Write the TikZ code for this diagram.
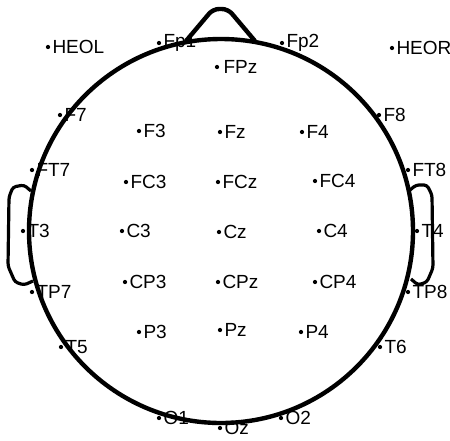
\documentclass[tikz,border=0pt]{standalone}
\usepackage{fontspec}
\setmainfont{Liberation Sans}
\usetikzlibrary{positioning}

\tikzset{
    dot/.style={circle, fill=black, inner sep=1.5pt},
    lab/.style={inner sep=0pt, font=\fontsize{19}{21}\selectfont},
    head/.style={line width=4.4pt},
    ear/.style={line width=3.2pt, rounded corners=3pt}
}

\begin{document}
\begin{tikzpicture}[x=1pt,y=-1pt]
    \useasboundingbox (0,0) rectangle (450,440);

    % Head, nose and ears
    \draw[head] (221,231) circle (192);
    \draw[head, rounded corners=6pt] (186,41) -- (213,9) -- (228,9) -- (255,41);
    \draw[ear] (31,191) -- (24,185) -- (13,187) -- (9,197) -- (8,266) -- (15,282) -- (24,285) -- (33,281);
    \draw[ear] (410,190) -- (416,185) -- (427,185) -- (432,195) -- (433,268) -- (427,282) -- (418,285) -- (411,279);

    % Eye channels
    \node[dot] (HEOL) at (48,47) {};
    \node[lab, right=2pt of HEOL] (HEOL-l) {HEOL};
    \node[dot] (HEOR) at (392,48) {};
    \node[lab, right=2pt of HEOR] (HEOR-l) {HEOR};

    % Frontal pole
    \node[dot] (Fp1) at (159,43) {};
    \node[lab, right=2pt of Fp1] (Fp1-l) {Fp1};
    \node[dot] (Fp2) at (282,43) {};
    \node[lab, right=2pt of Fp2] (Fp2-l) {Fp2};
    \node[dot] (FPz) at (217,67) {};
    \node[lab, right=4pt of FPz] (FPz-l) {FPz};

    % Frontal row
    \node[dot] (F7) at (60,115) {};
    \node[lab, right=2pt of F7] (F7-l) {F7};
    \node[dot] (F3) at (139,131) {};
    \node[lab, right=2pt of F3] (F3-l) {F3};
    \node[dot] (Fz) at (220,132) {};
    \node[lab, right=2pt of Fz] (Fz-l) {Fz};
    \node[dot] (F4) at (302,132) {};
    \node[lab, right=2pt of F4] (F4-l) {F4};
    \node[dot] (F8) at (379,115) {};
    \node[lab, right=2pt of F8] (F8-l) {F8};

    % Fronto-central row
    \node[dot] (FT7) at (32,170) {};
    \node[lab, right=2pt of FT7] (FT7-l) {FT7};
    \node[dot] (FC3) at (126,182) {};
    \node[lab, right=2pt of FC3] (FC3-l) {FC3};
    \node[dot] (FCz) at (218,182) {};
    \node[lab, right=2pt of FCz] (FCz-l) {FCz};
    \node[dot] (FC4) at (315,181) {};
    \node[lab, right=2pt of FC4] (FC4-l) {FC4};
    \node[dot] (FT8) at (408,170) {};
    \node[lab, right=2pt of FT8] (FT8-l) {FT8};

    % Central row
    \node[dot] (T3) at (23,231) {};
    \node[lab, right=2pt of T3] (T3-l) {T3};
    \node[dot] (C3) at (122,231) {};
    \node[lab, right=2pt of C3] (C3-l) {C3};
    \node[dot] (Cz) at (219,232) {};
    \node[lab, right=2pt of Cz] (Cz-l) {Cz};
    \node[dot] (C4) at (319,231) {};
    \node[lab, right=2pt of C4] (C4-l) {C4};
    \node[dot] (T4) at (417,231) {};
    \node[lab, right=2pt of T4] (T4-l) {T4};

    % Centro-parietal row
    \node[dot] (TP7) at (32,292) {};
    \node[lab, right=2pt of TP7] (TP7-l) {TP7};
    \node[dot] (CP3) at (125,282) {};
    \node[lab, right=2pt of CP3] (CP3-l) {CP3};
    \node[dot] (CPz) at (218,282) {};
    \node[lab, right=2pt of CPz] (CPz-l) {CPz};
    \node[dot] (CP4) at (315,282) {};
    \node[lab, right=2pt of CP4] (CP4-l) {CP4};
    \node[dot] (TP8) at (408,292) {};
    \node[lab, right=2pt of TP8] (TP8-l) {TP8};

    % Parietal row
    \node[dot] (T5) at (61,347) {};
    \node[lab, right=2pt of T5] (T5-l) {T5};
    \node[dot] (P3) at (139,332) {};
    \node[lab, right=2pt of P3] (P3-l) {P3};
    \node[dot] (Pz) at (220,330) {};
    \node[lab, right=2pt of Pz] (Pz-l) {Pz};
    \node[dot] (P4) at (301,332) {};
    \node[lab, right=2pt of P4] (P4-l) {P4};
    \node[dot] (T6) at (380,347) {};
    \node[lab, right=2pt of T6] (T6-l) {T6};

    % Occipital
    \node[dot] (O1) at (159,418) {};
    \node[lab, right=2pt of O1] (O1-l) {O1};
    \node[dot] (Oz) at (220,428) {};
    \node[lab, right=2pt of Oz] (Oz-l) {Oz};
    \node[dot] (O2) at (281,418) {};
    \node[lab, right=2pt of O2] (O2-l) {O2};
\end{tikzpicture}
\end{document}
